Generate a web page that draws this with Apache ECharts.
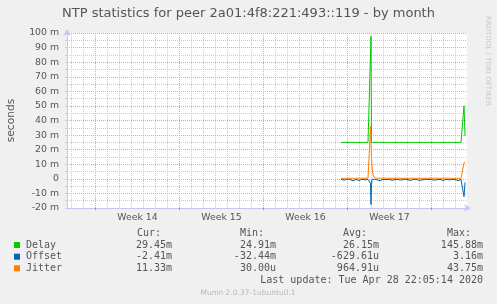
<!DOCTYPE html>
<html><head><meta charset="utf-8">
<script src="https://cdn.jsdelivr.net/npm/echarts@6/dist/echarts.min.js"></script>
<style>html,body{margin:0;padding:0;background:#f0f0f0}#c{width:497px;height:304px}</style>
</head><body><div id="c"></div><script>
// ---- data (x = hours since start of the 800-hour month window) ----
const titleText = 'NTP statistics for peer 2a01:4f8:221:493::119 - by month';
const weekStarts = [57, 225, 393, 561, 729];
const weekMids = [141, 309, 477, 645];
const weekLabels = ['Week 14', 'Week 15', 'Week 16', 'Week 17'];
const dayLines = [9, 33, 81, 105, 129, 153, 177, 201, 249, 273, 297, 321, 345, 369, 417, 441, 465, 489, 513, 537, 585, 609, 633, 657, 681, 705, 753, 777];
const minorY = [-15, -5, 5, 15, 25, 35, 45, 55, 65, 75, 85, 95];
const times = [548, 554, 560, 566, 572, 578, 584, 590, 596, 602, 606, 607, 608, 609, 610, 612, 614, 616, 620, 626, 632, 638, 644, 650, 656, 662, 668, 674, 680, 686, 692, 698, 704, 710, 716, 722, 728, 734, 740, 746, 752, 758, 764, 770, 776, 782, 788, 792, 794, 796];
const delay = [25, 25, 25, 25, 25, 25, 25, 25, 25, 25, 25, 25, 97.7, 25, 25, 25, 25, 25, 25, 25, 25, 25, 25, 25, 25, 25, 25, 25, 25, 25, 25, 25, 25, 25, 25, 25, 25, 25, 25, 25, 25, 25, 25, 25, 25, 25, 25, 25, 50.0, 29.45];
const offset = [-0.4, -0.9, -0.3, -0.5, -1.3, -0.4, -1.1, -0.3, -0.7, -0.4, -0.9, -3.0, -17.6, -4.0, -0.3, 0.5, -1.2, -0.3, -0.8, -1.3, -0.3, -0.6, -0.3, -1.0, -0.4, -0.5, -0.8, -0.3, -0.4, -1.1, -0.5, -0.4, -1.0, -0.8, -0.3, -0.5, -0.4, -0.9, -0.6, -0.3, -1.1, -0.4, -0.7, -0.5, -0.4, -1.2, -0.5, -0.4, -12.2, -2.41];
const jitter = [0.4, 0.3, 0.5, 0.4, 0.3, 0.4, 0.5, 0.4, 0.3, 0.5, 0.7, 36.0, 24.0, 14.0, 8.0, 3.0, 1.2, 0.6, 0.4, 0.4, 0.5, 0.4, 0.4, 0.3, 0.4, 0.5, 0.4, 0.4, 0.3, 0.4, 0.5, 0.4, 0.4, 0.3, 0.4, 0.4, 0.5, 0.4, 0.4, 0.3, 0.4, 0.5, 0.4, 0.4, 0.3, 0.4, 0.4, 0.4, 11.0, 11.33];
const seriesNames = ['Delay', 'Offset', 'Jitter'];
const seriesColors = ['#00cc00', '#0066b3', '#ff8000'];
const statHeaders = ['Cur:', 'Min:', 'Avg:', 'Max:'];
const statCur = ['29.45m', '-2.41m', '11.33m'];
const statMin = ['24.91m', '-32.44m', '30.00u'];
const statAvg = ['26.15m', '-629.61u', '964.91u'];
const statMax = ['145.88m', '3.16m', '43.75m'];
const lastUpdate = 'Last update: Tue Apr 28 22:05:14 2020';
const footer = 'Munin 2.0.37-1ubuntu0.1';
const watermark = 'RRDTOOL / TOBI OETIKER';
const yName = 'seconds';

// ---- chart ----
const chart = echarts.init(document.getElementById('c'), null, {renderer: 'canvas', width: 497, height: 304});
const axisCol = '#c4c8f0';
const mgrid = '#f49a9a';
const grid2 = '#cccccc';
const txt = '#555555';
const mono = 'DejaVu Sans Mono';
const sans = 'DejaVu Sans';

const graphics = [];
const rowY = [245, 256.7, 268.3];
const headerX = [137, 240, 343, 447];
const valRight = [172, 276, 379, 483];
const stats = [statCur, statMin, statAvg, statMax];
statHeaders.forEach((h, j) => graphics.push({type: 'text', x: headerX[j], y: 233.3, style: {text: h, font: '10px "' + mono + '"', fill: txt, align: 'left', verticalAlign: 'middle'}}));
seriesNames.forEach((n, i) => {
  graphics.push({type: 'rect', shape: {x: 14, y: rowY[i] - 3, width: 6, height: 6}, style: {fill: seriesColors[i]}});
  graphics.push({type: 'text', x: 26, y: rowY[i], style: {text: n, font: '10px "' + mono + '"', fill: txt, align: 'left', verticalAlign: 'middle'}});
  stats.forEach((arr, j) => graphics.push({type: 'text', x: valRight[j], y: rowY[i], style: {text: arr[i], font: '10px "' + mono + '"', fill: txt, align: 'right', verticalAlign: 'middle'}}));
});
graphics.push({type: 'text', x: 483, y: 280.3, style: {text: lastUpdate, font: '10px "' + mono + '"', fill: txt, align: 'right', verticalAlign: 'middle'}});
graphics.push({type: 'text', x: 248, y: 293, style: {text: footer, font: '7.5px "' + sans + '"', fill: '#b8b8b8', align: 'center', verticalAlign: 'middle'}});
graphics.push({type: 'text', x: 488, y: 61, rotation: -Math.PI / 2, style: {text: watermark, font: '7px "' + sans + '"', fill: '#c8c8c8', align: 'center', verticalAlign: 'middle'}});

const mk = (arr) => times.map((t, i) => [t, arr[i]]);
const values = [delay, offset, jitter];

chart.setOption({
  backgroundColor: '#f0f0f0',
  animation: false,
  title: {text: titleText, left: 'center', top: 7, padding: 0, textStyle: {fontFamily: sans, fontSize: 13, fontWeight: 'normal', color: txt}},
  grid: {left: 67, top: 33, width: 400, height: 175, show: true, backgroundColor: '#ffffff', borderWidth: 0, outerBoundsMode: 'none', containLabel: false},
  xAxis: [
    {type: 'value', min: 0, max: 800, position: 'bottom', z: 1,
      axisLine: {show: false}, axisTick: {show: true, length: 2, customValues: dayLines, lineStyle: {color: '#b8b8b8'}},
      axisLabel: {show: false},
      splitLine: {show: true, lineStyle: {color: grid2, type: [1, 1], width: 1}}},
    {type: 'value', min: 0, max: 800, position: 'bottom', z: 3,
      axisLine: {show: true, onZero: false, lineStyle: {color: axisCol, width: 1}, symbol: ['none', 'arrow'], symbolSize: [6, 7], symbolOffset: [0, 4]},
      axisTick: {show: true, length: 2, customValues: weekStarts, lineStyle: {color: '#f07070'}},
      axisLabel: {customValues: weekMids, formatter: (v) => weekLabels[weekMids.indexOf(Math.round(v))], margin: 5, fontFamily: sans, fontSize: 9.33, color: txt},
      splitLine: {show: true, lineStyle: {color: mgrid, type: [1, 1], width: 1, opacity: 1}}}
  ],
  yAxis: [
    {type: 'value', min: -20, max: 100, position: 'left', z: 1,
      axisLine: {show: false}, axisTick: {show: true, length: 2, customValues: minorY, lineStyle: {color: axisCol}},
      axisLabel: {show: false},
      splitLine: {show: true, lineStyle: {color: grid2, type: [1, 1], width: 1}}},
    {type: 'value', min: -20, max: 100, interval: 10, position: 'left', z: 3,
      name: yName, nameLocation: 'middle', nameGap: 50, nameRotate: 90,
      nameTextStyle: {fontFamily: sans, fontSize: 10.67, color: txt},
      axisLine: {show: true, onZero: false, lineStyle: {color: axisCol, width: 1}, symbol: ['none', 'arrow'], symbolSize: [6, 7], symbolOffset: [0, 4]},
      axisTick: {show: true, length: 2, lineStyle: {color: axisCol}},
      axisLabel: {formatter: (v) => v === 0 ? '0' : v + ' m', margin: 8, fontFamily: sans, fontSize: 9.33, color: txt},
      splitLine: {show: true, lineStyle: {color: mgrid, type: [1, 1], width: 1, opacity: 1}}}
  ],
  series: seriesNames.map((n, i) => ({
    type: 'line', name: n, xAxisIndex: 1, yAxisIndex: 1, data: mk(values[i]), showSymbol: false, symbol: 'none',
    lineStyle: {width: 1, color: seriesColors[i]}, itemStyle: {color: seriesColors[i]}, z: 5 + i
  })),
  graphic: graphics
});
</script></body></html>
